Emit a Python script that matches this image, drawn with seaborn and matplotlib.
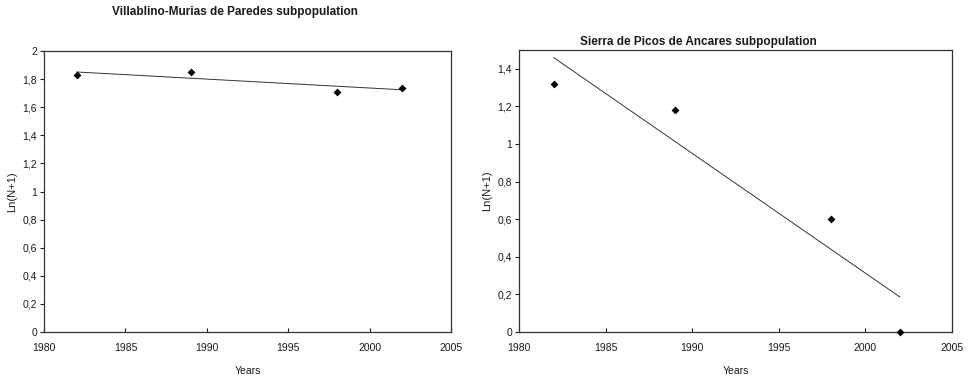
import numpy as np
import pandas as pd
import seaborn as sns
import matplotlib.pyplot as plt

sns.set_style("white")
plt.rcParams['font.family'] = ['Liberation Sans', 'DejaVu Sans']
plt.rcParams['text.color'] = '#1a1a1a'
plt.rcParams['axes.labelcolor'] = '#1a1a1a'
plt.rcParams['xtick.color'] = '#1a1a1a'
plt.rcParams['ytick.color'] = '#1a1a1a'

years = [1982, 1989, 1998, 2002]
villablino = [1.83, 1.85, 1.71, 1.74]
ancares = [1.32, 1.18, 0.60, 0.0]

titles = ["Villablino-Murias de Paredes subpopulation",
          "Sierra de Picos de Ancares subpopulation"]

df1 = pd.DataFrame({'year': years, 'ln': villablino})
df2 = pd.DataFrame({'year': years, 'ln': ancares})

fig = plt.figure(figsize=(9.68, 3.81), dpi=100)
ax1 = fig.add_axes([44/968, 49/381, 407/968, 281/381])
ax2 = fig.add_axes([519/968, 49/381, 433/968, 282/381])


def comma(v):
    s = f"{v:.1f}".rstrip('0').rstrip('.')
    return s.replace('.', ',')


for ax, df, ymax, yt in [(ax1, df1, 2.0, np.arange(0, 2.01, 0.2)),
                         (ax2, df2, 1.5, np.arange(0, 1.41, 0.2))]:
    sns.regplot(data=df, x='year', y='ln', ax=ax, ci=None, marker='D',
                scatter_kws={'s': 16, 'color': 'black', 'alpha': 1, 'linewidths': 0,
                             'zorder': 3, 'clip_on': False},
                line_kws={'color': '#333333', 'lw': 0.7})
    ax.set_xlim(1980, 2005)
    ax.set_ylim(0, ymax)
    ax.set_xticks([1980, 1985, 1990, 1995, 2000, 2005])
    ax.set_yticks(yt)
    ax.set_yticklabels([comma(v) for v in yt])
    ax.tick_params(axis='x', direction='in', length=3, width=0.8, labelsize=7.5, pad=8, bottom=True)
    ax.tick_params(axis='y', direction='out', length=3, width=0.8, labelsize=7.5, pad=2, left=True)
    for sp in ax.spines.values():
        sp.set_color('#333333')
        sp.set_linewidth(0.9)
    ax.set_xlabel('Years', fontsize=7.5, labelpad=9)
    ax.set_ylabel('Ln(N+1)', fontsize=8, labelpad=4)

fig.text(235/968, 1 - 12/381, titles[0], ha='center', va='center', fontsize=8.5, fontweight='bold')
fig.text(698/968, 1 - 42/381, titles[1], ha='center', va='center', fontsize=8.5, fontweight='bold')

fig.savefig('out.png', dpi=100)
